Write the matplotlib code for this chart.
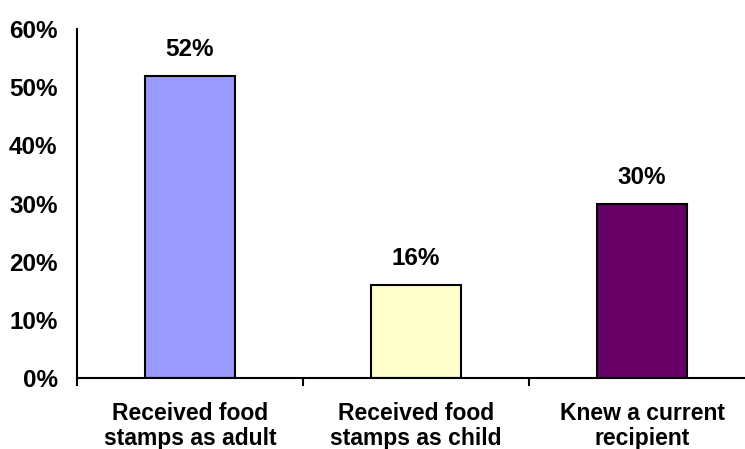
import numpy as np
import matplotlib.pyplot as plt
from matplotlib.ticker import FixedLocator, FuncFormatter

categories = ["Received food\nstamps as adult", "Received food\nstamps as child", "Knew a current\nrecipient"]
values = [52, 16, 30]
colors = ["#9999FF", "#FFFFCC", "#660066"]
yticks = [0, 10, 20, 30, 40, 50, 60]

plt.rcParams['font.family'] = ['Liberation Sans', 'DejaVu Sans']
plt.rcParams['font.weight'] = 'bold'

fig = plt.figure(figsize=(7.45, 4.49), dpi=100)
ax = fig.add_axes([77 / 745, 1 - 378 / 449, 678 / 745, 349 / 449])

x = np.arange(len(values))
bars = ax.bar(x, values, width=0.40, color=colors, edgecolor="black", linewidth=1.5)

for xi, v in zip(x, values):
    ax.annotate(f"{v}%", (xi, v), xytext=(0, 19), textcoords="offset points",
                ha="center", va="center", fontsize=17.5, fontweight="bold")

ax.set_xlim(-0.5, 2.5)
ax.set_ylim(0, 60)
ax.set_yticks(yticks)
ax.yaxis.set_major_formatter(FuncFormatter(lambda v, p: f"{int(v)}%"))
ax.tick_params(axis="y", length=0, pad=14, labelsize=17.5)

ax.set_xticks(x)
ax.set_xticklabels(categories, fontsize=16.5, fontweight="bold", linespacing=1.15)
ax.tick_params(axis="x", which="major", length=0, pad=17)
ax.xaxis.set_minor_locator(FixedLocator([-0.5, 0.5, 1.5]))
ax.tick_params(axis="x", which="minor", length=6, width=1.5, direction="out")

for s in ["top", "right"]:
    ax.spines[s].set_visible(False)
for s in ["left", "bottom"]:
    ax.spines[s].set_linewidth(1.5)

fig.savefig("out.png", dpi=100)
